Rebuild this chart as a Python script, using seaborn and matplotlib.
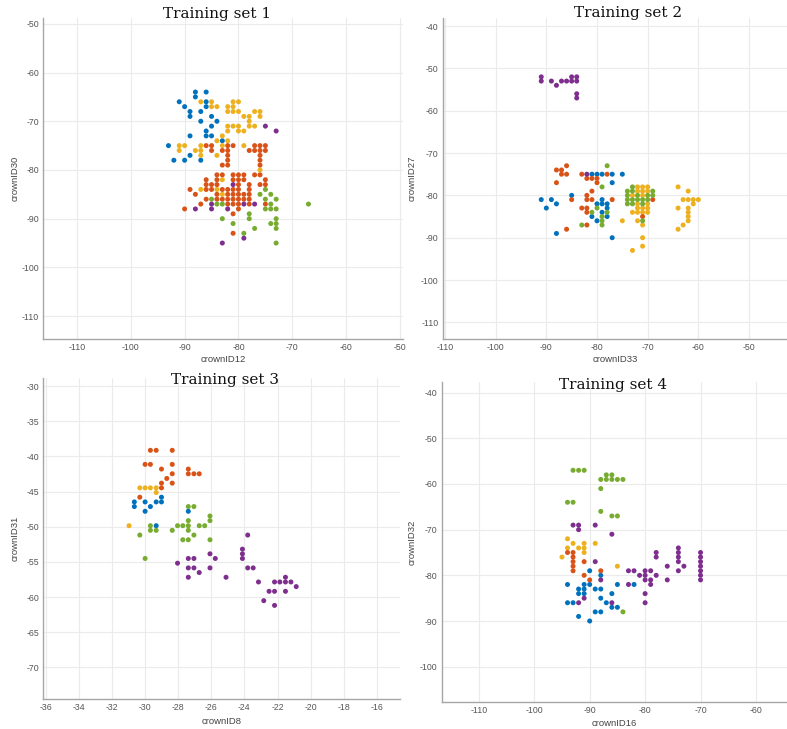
import matplotlib
matplotlib.use("Agg")
import matplotlib.pyplot as plt
import pandas as pd
import seaborn as sns

# ---------------- data ----------------
classes = ["blue", "yellow", "orange", "green", "purple"]

# Training set 1 : crownID12 (x) vs crownID30 (y)
s1_blue = [(-88,-64),(-86,-64),(-88,-65),(-91,-66),(-86,-66),(-90,-67),(-86,-67),(-89,-68),(-87,-68),
           (-89,-69),(-85,-69),(-87,-70),(-84,-70),(-85,-71),(-86,-72),(-89,-73),(-86,-73),(-85,-73),
           (-83,-74),(-93,-75),(-89,-77),(-92,-78),(-90,-78),(-87,-78)]
s1_yellow = [(-87,-66),(-85,-66),(-81,-66),(-80,-66),(-85,-67),(-84,-67),(-82,-67),(-81,-67),(-82,-68),
             (-81,-68),(-80,-68),(-77,-68),(-76,-68),(-79,-69),(-78,-69),(-76,-69),(-78,-70),(-82,-71),
             (-81,-71),(-80,-71),(-78,-71),(-77,-71),(-82,-72),(-80,-72),(-79,-72),(-83,-73),(-84,-74),
             (-82,-74),(-91,-75),(-90,-75),(-87,-75),(-83,-75),(-79,-75),(-91,-76),(-88,-76),(-87,-76),
             (-87,-77),(-84,-77),(-76,-80),(-83,-82),(-87,-84),(-84,-84),(-83,-85)]
s1_orange = [(-86,-75),(-85,-75),(-82,-75),(-81,-75),(-77,-75),(-76,-75),(-75,-75),
             (-85,-76),(-83,-76),(-82,-76),(-78,-76),(-77,-76),(-76,-76),(-75,-76),
             (-82,-77),(-76,-77),(-82,-78),(-76,-78),(-83,-79),(-82,-79),(-76,-79),
             (-84,-81),(-83,-81),(-81,-81),(-80,-81),(-79,-81),(-77,-81),(-76,-81),
             (-86,-82),(-84,-82),(-81,-82),(-80,-82),(-79,-82),(-75,-82),
             (-86,-83),(-85,-83),(-84,-83),(-80,-83),(-78,-83),(-76,-83),(-75,-83),
             (-89,-84),(-86,-84),(-85,-84),(-83,-84),(-82,-84),(-81,-84),(-80,-84),(-78,-84),
             (-88,-85),(-84,-85),(-82,-85),(-81,-85),(-80,-85),(-79,-85),(-78,-85),
             (-86,-86),(-84,-86),(-83,-86),(-82,-86),(-81,-86),(-80,-86),(-79,-86),(-78,-86),
             (-87,-87),(-82,-87),(-81,-87),(-80,-87),(-78,-87),(-75,-87),
             (-90,-88),(-80,-88),(-81,-89),(-81,-93)]
s1_green = [(-75,-84),(-76,-85),(-74,-85),(-85,-86),(-75,-86),(-73,-86),(-84,-87),(-83,-87),(-74,-87),
            (-67,-87),(-75,-88),(-74,-88),(-73,-88),(-78,-89),(-83,-90),(-78,-90),(-73,-90),(-81,-91),
            (-74,-91),(-73,-91),(-77,-92),(-73,-92),(-79,-93),(-73,-95)]
s1_purple = [(-75,-71),(-73,-72),(-81,-83),(-85,-87),(-79,-87),(-77,-87),(-88,-88),(-85,-88),(-82,-88),
             (-79,-94),(-83,-95)]

# Training set 2 : crownID33 (x) vs crownID27 (y)
s2_blue = [(-81,-75),(-80,-75),(-79,-75),(-77,-75),(-75,-75),(-77,-77),(-85,-80),(-91,-81),(-89,-81),
           (-79,-81),(-88,-82),(-80,-82),(-79,-82),(-78,-82),(-90,-83),(-78,-83),(-79,-84),(-81,-85),
           (-78,-85),(-80,-86),(-88,-89),(-77,-90)]
s2_yellow = [(-72,-78),(-71,-78),(-70,-78),(-64,-78),(-72,-79),(-71,-79),(-70,-79),(-62,-79),(-73,-80),
             (-71,-80),(-63,-81),(-62,-81),(-61,-81),(-60,-81),(-72,-82),(-70,-82),(-61,-82),(-72,-83),
             (-71,-83),(-70,-83),(-64,-83),(-62,-83),(-73,-84),(-72,-84),(-71,-84),(-70,-84),(-62,-84),
             (-62,-85),(-75,-86),(-72,-86),(-62,-86),(-71,-87),(-63,-87),(-64,-88),(-71,-90),(-71,-92),
             (-73,-93)]
s2_orange = [(-86,-73),(-88,-74),(-87,-74),(-87,-75),(-86,-75),(-83,-75),(-78,-75),(-82,-76),(-81,-76),
             (-80,-76),(-88,-77),(-80,-77),(-81,-79),(-82,-80),(-85,-81),(-82,-81),(-81,-81),(-77,-81),
             (-69,-81),(-83,-83),(-82,-83),(-82,-84),(-71,-85),(-82,-87),(-86,-88)]
s2_green = [(-78,-73),(-79,-78),(-73,-78),(-74,-79),(-73,-79),(-69,-79),(-74,-80),(-72,-80),(-70,-80),
            (-69,-80),(-74,-81),(-73,-81),(-72,-81),(-71,-81),(-70,-81),(-74,-82),(-73,-82),(-71,-82),
            (-80,-83),(-81,-84),(-78,-84),(-79,-85),(-79,-86),(-71,-86),(-83,-87),(-79,-87)]
s2_purple = [(-91,-52),(-91,-53),(-89,-53),(-88,-54),(-87,-53),(-86,-53),(-85,-52),(-85,-53),(-84,-52),
             (-84,-53),(-84,-56),(-84,-57),(-82,-75)]

# Training set 3 : crownID8 (x) vs crownID31 (y)
s3_blue = [(-29.01,-45.81),(-30.65,-46.48),(-30.0,-46.48),(-29.33,-46.48),(-29.01,-46.48),(-30.65,-47.14),
           (-29.68,-47.14),(-30.0,-47.81),(-27.39,-47.81),(-29.33,-49.86)]
s3_yellow = [(-30.32,-44.48),(-30.0,-44.48),(-29.68,-44.48),(-29.33,-44.48),(-29.33,-45.14),(-30.97,-49.86)]
s3_orange = [(-29.68,-39.14),(-29.33,-39.14),(-28.36,-39.14),(-30.0,-41.14),(-29.68,-41.14),(-28.36,-41.14),
             (-29.01,-41.81),(-27.39,-41.81),(-28.36,-42.48),(-27.39,-42.48),(-27.05,-42.48),(-26.73,-42.48),
             (-28.69,-43.14),(-29.01,-43.81),(-28.36,-43.81),(-29.01,-44.48),(-30.32,-45.81)]
s3_green = [(-27.39,-47.14),(-27.05,-47.14),(-26.08,-48.48),(-27.39,-49.14),(-26.08,-49.14),(-29.68,-49.86),
            (-28.04,-49.86),(-27.72,-49.86),(-27.39,-49.86),(-26.73,-49.86),(-26.40,-49.86),(-29.68,-50.52),
            (-29.33,-50.52),(-28.36,-50.52),(-27.39,-50.52),(-30.32,-51.19),(-27.05,-51.19),(-27.72,-51.86),
            (-27.39,-51.86),(-26.08,-51.86),(-30.0,-54.52)]
s3_purple = [(-23.80,-51.19),(-24.12,-53.19),(-26.08,-53.86),(-24.12,-53.86),(-27.39,-54.52),(-27.05,-54.52),
             (-25.76,-54.52),(-24.12,-54.52),(-28.04,-55.19),(-27.39,-55.86),(-27.05,-55.86),(-26.08,-55.86),
             (-23.80,-55.86),(-23.47,-55.86),(-26.73,-56.52),(-27.39,-57.19),(-25.11,-57.19),(-21.52,-57.19),
             (-23.15,-57.86),(-22.18,-57.86),(-21.86,-57.86),(-21.52,-57.86),(-21.19,-57.86),(-20.87,-58.52),
             (-22.51,-59.19),(-22.18,-59.19),(-21.52,-59.19),(-22.83,-60.52),(-22.18,-61.19)]

# Training set 4 : crownID16 (x) vs crownID32 (y)
s4_blue = [(-90,-79),(-88,-80),(-94,-82),(-91,-82),(-90,-82),(-85,-82),(-82,-82),(-92,-83),(-91,-83),
           (-89,-83),(-88,-83),(-92,-84),(-91,-84),(-86,-84),(-88,-85),(-94,-86),(-93,-86),(-87,-86),
           (-86,-87),(-85,-87),(-89,-88),(-88,-88),(-92,-89),(-90,-90)]
s4_yellow = [(-94,-72),(-93,-73),(-91,-73),(-89,-73),(-94,-74),(-92,-74),(-91,-74),(-91,-75),(-95,-76),
             (-85,-78)]
s4_orange = [(-94,-75),(-93,-75),(-93,-76),(-93,-77),(-93,-78),(-93,-79),(-91,-77),(-88,-79),(-91,-80),
             (-90,-81)]
s4_green = [(-93,-57),(-92,-57),(-91,-57),(-87,-58),(-86,-58),(-88,-59),(-87,-59),(-86,-59),(-85,-59),
            (-84,-59),(-88,-61),(-94,-64),(-93,-64),(-88,-66),(-86,-67),(-85,-67),(-84,-88)]
s4_purple = [(-93,-69),(-92,-69),(-89,-69),(-92,-70),(-86,-71),(-89,-77),(-88,-81),(-83,-79),(-82,-79),
             (-80,-79),(-79,-79),(-81,-80),(-80,-80),(-78,-80),(-80,-81),(-79,-81),(-83,-82),(-79,-82),
             (-78,-75),(-78,-76),(-76,-78),(-76,-81),(-74,-74),(-74,-75),(-74,-76),(-74,-77),(-73,-78),
             (-74,-79),(-70,-75),(-70,-76),(-70,-77),(-70,-78),(-70,-79),(-70,-80),(-70,-81),(-80,-84),
             (-80,-86),(-91,-85),(-92,-86),(-86,-86)]

titles = ["Training set 1", "Training set 2", "Training set 3", "Training set 4"]
xlabels = ["crownID12", "crownID33", "crownID8", "crownID16"]
ylabels = ["crownID30", "crownID27", "crownID31", "crownID32"]
xticks = [list(range(-110, -49, 10)), list(range(-110, -49, 10)),
          list(range(-36, -15, 2)), list(range(-110, -59, 10))]
yticks = [list(range(-110, -49, 10)), list(range(-110, -39, 10)),
          list(range(-70, -29, 5)), list(range(-100, -39, 10))]

palette = {"blue": "#0072BD", "orange": "#D95319", "yellow": "#EDB120",
           "purple": "#7E2F8E", "green": "#77AC30"}


def frame(blue, yellow, orange, green, purple):
    rows = []
    for name, pts in zip(classes, [blue, yellow, orange, green, purple]):
        for x, y in pts:
            rows.append({"x": x, "y": y, "cls": name})
    return pd.DataFrame(rows)


frames = [frame(s1_blue, s1_yellow, s1_orange, s1_green, s1_purple),
          frame(s2_blue, s2_yellow, s2_orange, s2_green, s2_purple),
          frame(s3_blue, s3_yellow, s3_orange, s3_green, s3_purple),
          frame(s4_blue, s4_yellow, s4_orange, s4_green, s4_purple)]

# ---------------- layout (pixels) ----------------
W, H = 787, 729
sns.set_style("white")
plt.rcParams['font.family'] = ['Liberation Sans', 'DejaVu Sans']
plt.rcParams['axes.unicode_minus'] = False

fig = plt.figure(figsize=(W / 100, H / 100), dpi=100)

# (left, right, top, bottom) px, xlim, ylim
boxes = [(43.3, 403, 18, 339), (442.7, 787, 18, 339.3),
         (43.3, 400, 378, 699), (441.7, 787, 381.7, 702.3)]
xlims = [(-116.25, -49.44), (-110.45, -42.5), (-36.15, -14.6), (-116.7, -54.4)]
ylims = [(-114.7, -48.8), (-114.0, -38.1), (-74.5, -28.86), (-107.8, -37.6)]
title_pos = [(217, 14), (628, 13), (225, 380), (613, 385)]
xlabel_y = [360, 360, 721, 723]
ylabel_x = [15, 412, 15, 412]

tick_col = "#555555"
spine_col = "#a6a6a6"

for i in range(4):
    l, r, t, b = boxes[i]
    ax = fig.add_axes([l / W, 1 - b / H, (r - l) / W, (b - t) / H])
    sns.scatterplot(data=frames[i], x="x", y="y", hue="cls", palette=palette,
                    s=13, linewidth=0, legend=False, ax=ax, zorder=3)
    ax.set_xlim(*xlims[i])
    ax.set_ylim(*ylims[i])
    ax.set_xticks(xticks[i])
    ax.set_yticks(yticks[i])
    ax.grid(True, color="#ebebeb", linewidth=0.8, zorder=0)
    ax.set_axisbelow(True)
    for side in ["top", "right"]:
        ax.spines[side].set_visible(False)
    for side in ["left", "bottom"]:
        ax.spines[side].set_color(spine_col)
        ax.spines[side].set_linewidth(1.0)
    ax.tick_params(direction="in", length=2.5, width=0.6, color=spine_col,
                   labelsize=6.3, labelcolor=tick_col, pad=3)
    ax.set_xlabel(xlabels[i], fontsize=6.8, color="#444444")
    ax.set_ylabel(ylabels[i], fontsize=6.8, color="#444444")
    hpx = b - t
    wpx = r - l
    ax.xaxis.label.set_va("center")
    ax.xaxis.set_label_coords(0.5, (b - xlabel_y[i]) / hpx)
    ax.yaxis.label.set_va("center")
    ax.yaxis.set_label_coords((ylabel_x[i] - l) / wpx, 0.5)
    tx, ty = title_pos[i]
    fig.text(tx / W, 1 - ty / H, titles[i], ha="center", va="center",
             fontsize=11, family="DejaVu Serif", color="#111111")

fig.savefig("out.png", dpi=100)
